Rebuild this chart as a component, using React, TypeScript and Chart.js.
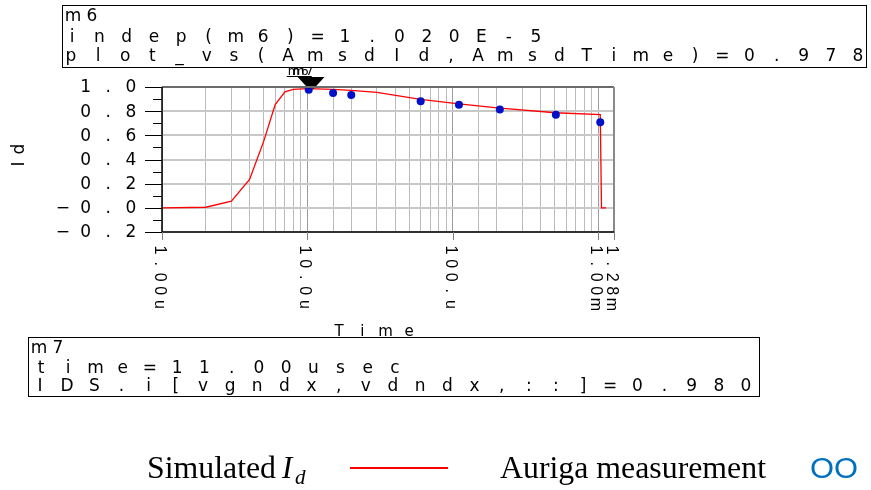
import { useEffect, useRef } from "react";
import { Chart, registerables } from "chart.js";
Chart.register(...registerables);

// Simulated Id (red line)
const simTime = [1e-6, 2e-6, 3e-6, 4e-6, 5e-6, 6e-6, 7e-6, 8e-6, 1e-5, 1.5e-5, 2e-5, 3e-5, 6e-5, 1.1e-4, 2.1e-4, 5.1e-4, 1.03e-3, 1.05e-3, 1.13e-3];
const simId = [0.0, 0.005, 0.055, 0.235, 0.55, 0.855, 0.96, 0.98, 0.987, 0.98, 0.972, 0.955, 0.897, 0.86, 0.825, 0.787, 0.772, 0.0, 0.0];
// Auriga measurement (blue dots)
const measTime = [1.02e-5, 1.5e-5, 2e-5, 6e-5, 1.1e-4, 2.1e-4, 5.1e-4, 1.03e-3];
const measId = [0.978, 0.95, 0.933, 0.883, 0.853, 0.814, 0.77, 0.708];

const xTickValues = [1e-6, 1e-5, 1e-4, 1e-3, 1.28e-3];
const xTickLabels = ["1.00u", "10.0u", "100.u", "1.00m", "1.28m"];
const yTickValues = [1.0, 0.8, 0.6, 0.4, 0.2, 0.0, -0.2];
const yTickLabels = ["1.0", "0.8", "0.6", "0.4", "0.2", "\u22120.0", "\u22120.2"];
const markerTimes = [1.02e-5, 1.1e-5];
const markerNames = ["m6", "m7"];
const box1Lines = ["m6", "indep(m6)=1.020E-5", "plot_vs(AmsdId,AmsdTime)=0.978"];
const box2Lines = ["m7", "time=11.00usec", "IDS.i[vgndx,vdndx,::]=0.980"];
const legendLabels = ["Simulated", "I", "d", "Auriga measurement", "OO"];

// draw characters centred in cells, from first-char centre to last-char centre
function drawCells(ctx: CanvasRenderingContext2D, text: string, c0: number, c1: number, y: number) {
  const chars = Array.from(text);
  const n = chars.length;
  const pitch = n > 1 ? (c1 - c0) / (n - 1) : 0;
  ctx.save();
  ctx.textAlign = "center";
  chars.forEach((ch, i) => ctx.fillText(ch, c0 + pitch * i, y));
  ctx.restore();
}
function drawCellsPitch(ctx: CanvasRenderingContext2D, text: string, c0: number, pitch: number, y: number) {
  const chars = Array.from(text);
  ctx.save();
  ctx.textAlign = "center";
  chars.forEach((ch, i) => ctx.fillText(ch, c0 + pitch * i, y));
  ctx.restore();
}
function drawFit(ctx: CanvasRenderingContext2D, text: string, x: number, y: number, w: number) {
  const m = ctx.measureText(text).width;
  ctx.save();
  ctx.translate(x, y);
  ctx.scale(w / m, 1);
  ctx.fillText(text, 0, 0);
  ctx.restore();
}

const decorPlugin = {
  id: "decor",
  afterDatasetsDraw(chart: any) {
    const ctx: CanvasRenderingContext2D = chart.ctx;
    const xs = chart.scales.x;
    const { top } = chart.chartArea;
    ctx.save();
    markerTimes.forEach((t, i) => {
      const px = xs.getPixelForValue(t);
      ctx.fillStyle = "#000";
      ctx.beginPath();
      ctx.moveTo(px - 11, top - 10);
      ctx.lineTo(px + 11, top - 10);
      ctx.lineTo(px, top + 2);
      ctx.closePath();
      ctx.fill();
      ctx.font = '12px "DejaVu Sans"';
      ctx.textBaseline = "alphabetic";
      drawCellsPitch(ctx, markerNames[i], px - 15, 11, top - 12);
    });
    ctx.strokeStyle = "#000";
    ctx.lineWidth = 1;
    const p0 = xs.getPixelForValue(markerTimes[0]);
    ctx.beginPath();
    ctx.moveTo(p0 - 22, top - 10.5);
    ctx.lineTo(p0 + 3, top - 10.5);
    ctx.stroke();
    ctx.restore();
  },
  afterDraw(chart: any) {
    const ctx: CanvasRenderingContext2D = chart.ctx;
    const xs = chart.scales.x;
    const ys = chart.scales.y;
    const { left, right, top, bottom } = chart.chartArea;
    ctx.save();
    // frame
    ctx.strokeStyle = "#6a6a6a";
    ctx.lineWidth = 2;
    ctx.beginPath();
    ctx.moveTo(left, top);
    ctx.lineTo(right, top);
    ctx.stroke();
    ctx.strokeStyle = "#8a8a8a";
    ctx.beginPath();
    ctx.moveTo(right, top);
    ctx.lineTo(right, bottom);
    ctx.stroke();
    ctx.strokeStyle = "#000";
    ctx.lineWidth = 1.5;
    ctx.beginPath();
    ctx.moveTo(left, top);
    ctx.lineTo(left, bottom);
    ctx.lineTo(right, bottom);
    ctx.stroke();

    // y ticks
    ctx.lineWidth = 1;
    for (let k = 0; k <= 12; k++) {
      const v = -0.2 + k * 0.1;
      const py = Math.round(ys.getPixelForValue(v)) + 0.5;
      ctx.beginPath();
      ctx.moveTo(k % 2 === 0 ? left - 17 : left - 9, py);
      ctx.lineTo(left, py);
      ctx.stroke();
    }
    // x ticks
    ctx.strokeStyle = "#808080";
    xTickValues.forEach((v) => {
      const px = Math.round(xs.getPixelForValue(v)) + 0.5;
      ctx.beginPath();
      ctx.moveTo(px, bottom);
      ctx.lineTo(px, bottom + 8);
      ctx.stroke();
    });

    ctx.fillStyle = "#000";
    // y tick labels: right-aligned cells
    ctx.font = '17px "DejaVu Sans"';
    ctx.textBaseline = "middle";
    yTickValues.forEach((v, i) => {
      const py = ys.getPixelForValue(v) + 1;
      const lab = yTickLabels[i];
      const n = Array.from(lab).length;
      drawCellsPitch(ctx, lab, left - 31 - 22.7 * (n - 1), 22.7, py);
    });
    // x tick labels (rotated clockwise)
    ctx.font = '16px "Liberation Sans"';
    xTickValues.forEach((v, i) => {
      const px = xs.getPixelForValue(v) - 3;
      ctx.save();
      ctx.translate(px, bottom + 18);
      ctx.rotate(Math.PI / 2);
      ctx.textBaseline = "middle";
      drawCellsPitch(ctx, xTickLabels[i], 0, 13.6, 0);
      ctx.restore();
    });
    // axis titles
    ctx.font = '15px "DejaVu Sans"';
    ctx.textBaseline = "alphabetic";
    drawCells(ctx, "Time", 339, 409, 336);
    ctx.save();
    ctx.font = '17px "DejaVu Sans"';
    ctx.translate(24, 157);
    ctx.rotate(-Math.PI / 2);
    drawCells(ctx, "Id", -7, 8, 0);
    ctx.restore();

    // marker boxes
    const drawBox = (lines: string[], bx: number, by: number, bw: number, bh: number, cs: number[][], bases: number[]) => {
      ctx.fillStyle = "#fff";
      ctx.fillRect(bx, by, bw, bh);
      ctx.strokeStyle = "#000";
      ctx.lineWidth = 1;
      ctx.strokeRect(bx + 0.5, by + 0.5, bw, bh);
      ctx.fillStyle = "#000";
      ctx.font = '17px "DejaVu Sans"';
      ctx.textBaseline = "alphabetic";
      lines.forEach((l, i) => drawCells(ctx, l, cs[i][0], cs[i][1], bases[i]));
    };
    drawBox(box1Lines, 62, 5, 804, 62, [[73, 92], [72, 536], [71, 858]], [21, 42, 61]);
    drawBox(box2Lines, 28, 337, 731, 59, [[39, 58], [41, 395], [40, 746]], [353, 373, 391]);

    // legend
    ctx.fillStyle = "#000";
    ctx.textBaseline = "alphabetic";
    ctx.font = '31px "Liberation Serif"';
    drawFit(ctx, legendLabels[0], 147, 478, 129);
    ctx.font = 'italic 31px "Liberation Serif"';
    ctx.fillText(legendLabels[1], 282, 478);
    ctx.font = 'italic 21px "Liberation Serif"';
    ctx.fillText(legendLabels[2], 295, 484);
    ctx.strokeStyle = "#ff0000";
    ctx.lineWidth = 2;
    ctx.beginPath();
    ctx.moveTo(350, 468);
    ctx.lineTo(448, 468);
    ctx.stroke();
    ctx.font = '31px "Liberation Serif"';
    drawFit(ctx, legendLabels[3], 500, 478, 266);
    ctx.fillStyle = "#0070c0";
    ctx.font = '29px "Liberation Sans"';
    drawFit(ctx, legendLabels[4], 810, 478, 48);
    ctx.restore();
  },
};

export default function App() {
  const ref = useRef<HTMLCanvasElement | null>(null);
  useEffect(() => {
    if (!ref.current) return;
    const chart = new Chart(ref.current, {
      type: "scatter",
      data: {
        datasets: [
          {
            label: "Auriga measurement",
            data: measTime.map((t, i) => ({ x: t, y: measId[i] })),
            backgroundColor: "#0010c8",
            borderColor: "#0010c8",
            pointRadius: 4,
            pointBorderWidth: 0,
            showLine: false,
            order: 0,
          },
          {
            label: "Simulated Id",
            data: simTime.map((t, i) => ({ x: t, y: simId[i] })),
            borderColor: "#ff0000",
            borderWidth: 1.3,
            pointRadius: 0,
            showLine: true,
            tension: 0,
            order: 1,
          },
        ],
      },
      options: {
        animation: false,
        responsive: false,
        devicePixelRatio: 1,
        layout: { padding: { left: 0, top: 87, right: 257, bottom: 0 } },
        plugins: { legend: { display: false }, tooltip: { enabled: false } },
        scales: {
          x: {
            type: "logarithmic",
            min: 1e-6,
            max: 1.28e-3,
            ticks: { display: false },
            border: { display: false },
            grid: {
              drawTicks: false,
              lineWidth: 1,
              color: (c: any) => {
                const v = c.tick?.value;
                if (!v) return "#b4b4b4";
                const m = v / Math.pow(10, Math.floor(Math.log10(v) + 1e-9));
                return Math.abs(m - 1) < 1e-6 ? "#9c9c9c" : "#bcbcbc";
              },
            },
            afterFit: (s: any) => {
              s.height = 258;
            },
          },
          y: {
            type: "linear",
            min: -0.2,
            max: 1.0,
            ticks: { display: false, stepSize: 0.2 },
            border: { display: false },
            grid: { drawTicks: false, color: "#c8c8c8", lineWidth: 2 },
            afterFit: (s: any) => {
              s.width = 162;
            },
          },
        },
      },
      plugins: [decorPlugin],
    });
    return () => chart.destroy();
  }, []);
  return (
    <div style={{ position: "absolute", left: 0, top: 0, width: 871, height: 490, background: "#fff" }}>
      <canvas ref={ref} width={871} height={490} />
    </div>
  );
}
